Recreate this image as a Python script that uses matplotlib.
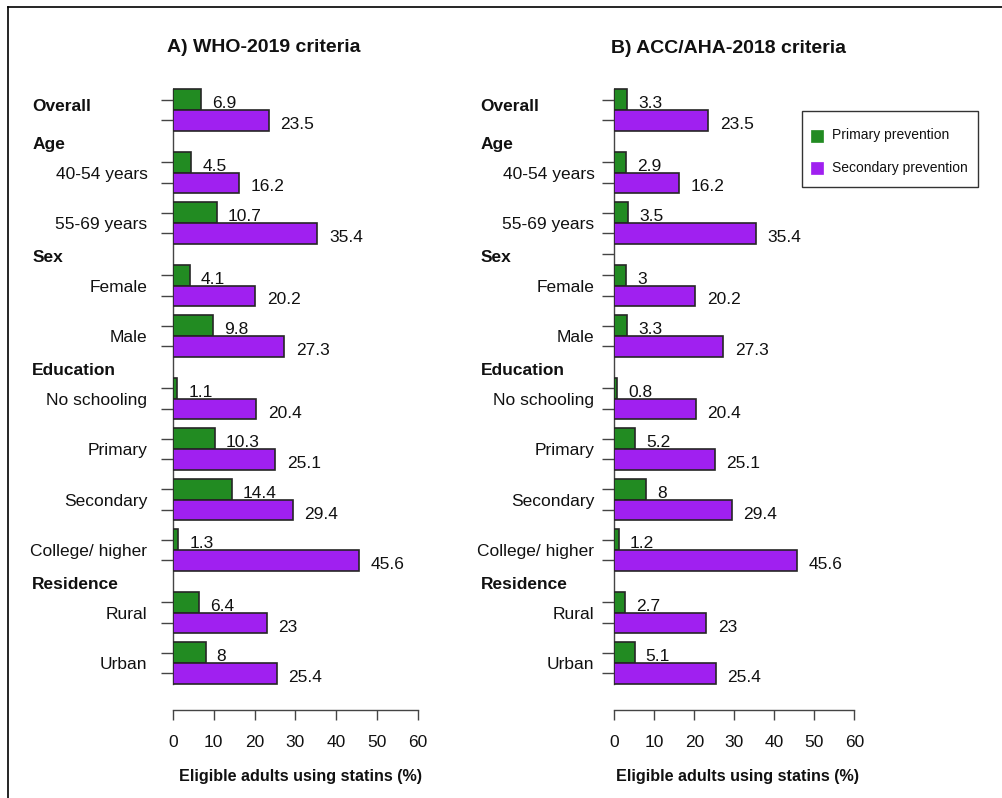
import matplotlib
matplotlib.use("Agg")
import matplotlib.pyplot as plt
from matplotlib.patches import Rectangle
import numpy as np

plt.rcParams['font.family'] = ['Liberation Sans', 'DejaVu Sans']

# ---------------- data ----------------
headers = ["Overall", "Age", "Sex", "Education", "Residence"]
groups = ["", "40-54 years", "55-69 years", "Female", "Male",
          "No schooling", "Primary", "Secondary", "College/ higher",
          "Rural", "Urban"]
group_header = [0, 1, 1, 2, 2, 3, 3, 3, 3, 4, 4]

who_primary = [6.9, 4.5, 10.7, 4.1, 9.8, 1.1, 10.3, 14.4, 1.3, 6.4, 8]
who_secondary = [23.5, 16.2, 35.4, 20.2, 27.3, 20.4, 25.1, 29.4, 45.6, 23, 25.4]
acc_primary = [3.3, 2.9, 3.5, 3, 3.3, 0.8, 5.2, 8, 1.2, 2.7, 5.1]
acc_secondary = [23.5, 16.2, 35.4, 20.2, 27.3, 20.4, 25.1, 29.4, 45.6, 23, 25.4]

series_names = ["Primary prevention", "Secondary prevention"]
xticks = [0, 10, 20, 30, 40, 50, 60]
titles = ["A) WHO-2019 criteria", "B) ACC/AHA-2018 criteria"]
xlabel = "Eligible adults using statins (%)"

# ---------------- style / layout ----------------
GREEN = "#228B22"
PURPLE = "#A020F0"
EDGE = "#262626"
AXC = "#444444"
W, H = 1003, 798
DPI = 100
FS = 12.5

fig = plt.figure(figsize=(W / DPI, H / DPI), dpi=DPI)

# group top positions (bar units), two bars of height 1 per group
tops = [0.0]
for i in range(1, len(groups)):
    step = 2.44 if group_header[i] == group_header[i - 1] else 3.02
    tops.append(tops[-1] + step)
tops = np.array(tops)
last_bottom = tops[-1] + 2

PX0 = 89.3      # pixel of y=0
PXU = 20.7      # pixels per bar unit
AX_TOP, AX_BOT = 85.0, 710.3
ylim = (AX_BOT - PX0) / PXU, (AX_TOP - PX0) / PXU


def px_rect(left, top, right, bottom):
    return [left / W, 1 - bottom / H, (right - left) / W, (bottom - top) / H]


panels = [
    dict(left=173.0, right=417.7, prim=who_primary, sec=who_secondary,
         lab_right=147.5, head_left=32.3, sex_tick=False,
         title_x=264.0, title_y=51.7, xl_x=300.5),
    dict(left=614.3, right=854.3, prim=acc_primary, sec=acc_secondary,
         lab_right=594.5, head_left=480.7, sex_tick=True,
         title_x=729.0, title_y=53.3, xl_x=737.8),
]

overlay = fig.add_axes([0, 0, 1, 1], zorder=10)
overlay.set_xlim(0, W)
overlay.set_ylim(H, 0)
overlay.axis("off")
overlay.patch.set_alpha(0)

for p in panels:
    ax = fig.add_axes(px_rect(p["left"], AX_TOP, p["right"], AX_BOT))
    ax.patch.set_alpha(0)
    ax.set_xlim(0, 60)
    ax.set_ylim(*ylim)
    green_c = tops + 0.5
    purple_c = tops + 1.5
    ax.barh(green_c, p["prim"], height=1.0, color=GREEN, edgecolor=EDGE,
            linewidth=1.2, zorder=3)
    ax.barh(purple_c, p["sec"], height=1.0, color=PURPLE, edgecolor=EDGE,
            linewidth=1.2, zorder=3)

    for yc, v in zip(green_c, p["prim"]):
        ax.annotate(f"{v:g}", xy=(v, yc), xytext=(7.9, -6.2),
                    textcoords="offset points", ha="left", va="baseline",
                    fontsize=FS, color="#111111")
    for yc, v in zip(purple_c, p["sec"]):
        ax.annotate(f"{v:g}", xy=(v, yc), xytext=(8.4, -6.2),
                    textcoords="offset points", ha="left", va="baseline",
                    fontsize=FS, color="#111111")

    ticks = list(green_c) + list(purple_c)
    # gap midpoints between header categories
    gap_mid = {}
    for i in range(1, len(groups)):
        if group_header[i] != group_header[i - 1]:
            gap_mid[group_header[i]] = (tops[i - 1] + 2 + tops[i]) / 2
    if p["sex_tick"]:
        ticks.append(gap_mid[2])
    ax.set_yticks(ticks)
    ax.set_yticklabels([])
    ax.set_xticks(xticks)
    ax.set_xticklabels([str(t) for t in xticks], fontsize=FS, color="#111111")
    ax.tick_params(axis="y", direction="out", length=8.6, width=1.0,
                   color=AXC, left=True)
    ax.tick_params(axis="x", direction="out", length=7.2, width=1.0,
                   color=AXC, pad=10.5)
    for s in ["top", "right"]:
        ax.spines[s].set_visible(False)
    ax.spines["left"].set_bounds(0, last_bottom)
    ax.spines["bottom"].set_bounds(0, 60)
    for s in ["left", "bottom"]:
        ax.spines[s].set_color(AXC)
        ax.spines[s].set_linewidth(1.0)

    width_px = p["right"] - p["left"]
    lab_x = -(p["left"] - p["lab_right"]) / width_px
    ytr = ax.get_yaxis_transform()
    for i, g in enumerate(groups):
        if g:
            ax.text(lab_x, tops[i] + 1 + 0.29, g, transform=ytr, ha="right",
                    va="baseline", fontsize=FS, color="#111111")
    head_x = -(p["left"] - p["head_left"]) / width_px
    for h_i, h in enumerate(headers):
        if h_i == 0:
            yb = tops[0] + 1 + 0.05
        else:
            yb = gap_mid[h_i] + 0.39
        ax.text(head_x, yb, h, transform=ytr, ha="left", va="baseline",
                fontsize=FS, fontweight="bold", color="#111111")

    overlay.text(p["title_x"], p["title_y"], titles[panels.index(p)],
                 ha="center", va="baseline", fontsize=14, fontweight="bold",
                 color="#111111")
    overlay.text(p["xl_x"], 780.7, xlabel, ha="center", va="baseline",
                 fontsize=11.6, fontweight="bold", color="#111111")

# figure border (left and top edges visible)
overlay.plot([8.3, 8.3], [H + 5, 7.3], color="black", lw=1.2,
             clip_on=False, solid_capstyle="projecting")
overlay.plot([8.3, W + 5], [7.3, 7.3], color="black", lw=1.2,
             clip_on=False, solid_capstyle="projecting")

# legend
overlay.add_patch(Rectangle((802.3, 111.0), 175.4, 75.7, fill=False,
                            edgecolor="#333333", lw=1.0))
for yc, col, name in zip([135.5, 167.7], [GREEN, PURPLE], series_names):
    overlay.add_patch(Rectangle((810.7, yc - 6), 12, 12, facecolor=col,
                                edgecolor=col, lw=0.5))
    overlay.text(831.7, yc, name, ha="left", va="center", fontsize=10,
                 color="#111111")

fig.savefig("out.png", dpi=DPI, facecolor="white")
